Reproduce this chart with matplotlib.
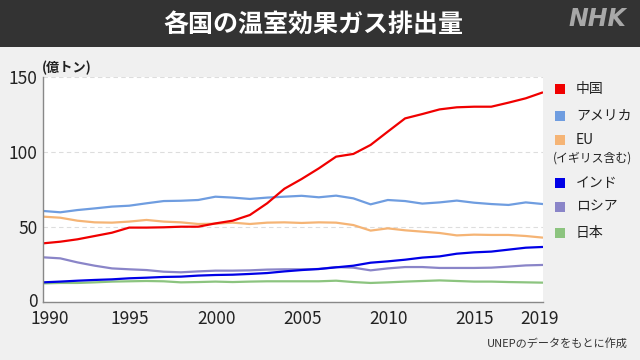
import matplotlib
matplotlib.use('Agg')
import matplotlib.pyplot as plt
from matplotlib.patches import Rectangle
from matplotlib.transforms import ScaledTranslation

plt.rcParams['font.family'] = ['Noto Sans CJK JP', 'DejaVu Sans']

years = list(range(1990, 2020))

china = [39.1, 40.2, 41.8, 44.0, 46.2, 49.6, 49.6, 49.8, 50.2, 50.2,
         52.4, 54.2, 58.0, 65.8, 75.5, 82.0, 89.1, 96.9, 98.7, 104.7,
         113.6, 122.4, 125.3, 128.4, 129.8, 130.2, 130.2, 132.9, 135.8, 139.8]
usa = [60.7, 59.8, 61.3, 62.4, 63.6, 64.2, 65.8, 67.3, 67.5, 68.0,
       70.2, 69.6, 68.7, 69.6, 70.2, 70.8, 69.8, 70.9, 69.1, 65.1,
       68.0, 67.3, 65.6, 66.4, 67.6, 66.2, 65.3, 64.7, 66.4, 65.3]
eu = [56.9, 56.2, 54.2, 53.1, 52.9, 53.6, 54.7, 53.6, 53.1, 52.0,
      52.2, 52.9, 52.0, 52.9, 53.1, 52.7, 53.1, 52.9, 51.3, 47.6,
      49.1, 47.8, 46.9, 46.0, 44.4, 44.9, 44.7, 44.7, 44.0, 42.9]
india = [13.1, 13.6, 14.2, 14.7, 15.1, 15.8, 16.2, 16.7, 16.9, 17.6,
         18.0, 18.2, 18.7, 19.3, 20.4, 21.3, 22.0, 23.1, 24.2, 26.2,
         27.1, 28.2, 29.6, 30.4, 32.2, 33.1, 33.6, 34.9, 36.2, 36.7]
russia = [29.8, 29.1, 26.4, 24.2, 22.4, 21.8, 21.3, 20.2, 19.8, 20.4,
          20.9, 20.9, 21.1, 21.6, 21.8, 21.8, 22.0, 23.3, 22.9, 21.1,
          22.4, 23.3, 23.3, 22.7, 22.7, 22.7, 22.9, 23.6, 24.4, 24.7]
japan = [12.4, 12.7, 12.7, 13.1, 13.6, 13.8, 14.0, 13.8, 13.1, 13.3,
         13.6, 13.3, 13.6, 13.8, 13.8, 13.8, 13.8, 14.2, 13.3, 12.7,
         13.1, 13.6, 14.0, 14.4, 14.0, 13.6, 13.6, 13.3, 13.1, 12.9]

names = ['中国', 'アメリカ', 'EU', 'インド', 'ロシア', '日本']
colors = ['#f00000', '#6f9de0', '#f5b475', '#0000e6', '#8a85c8', '#8cc47f']
series = [china, usa, eu, india, russia, japan]
xticks = [1990, 1995, 2000, 2005, 2010, 2015, 2019]
yticks = [0, 50, 100, 150]

fig = plt.figure(figsize=(6.4, 3.6), dpi=100, facecolor='#f0f0f0')

# header bar
fig.add_artist(Rectangle((0, 1 - 47 / 360), 1, 47 / 360, transform=fig.transFigure,
                         facecolor='#333333', edgecolor='none'))
fig.text(313 / 640, 1 - 25 / 360, '各国の温室効果ガス排出量', color='white', fontsize=18,
         fontweight='bold', ha='center', va='center')
fig.text(597 / 640, 1 - 19 / 360, 'NHK', color='#a8a8a8', fontsize=17,
         fontweight='bold', fontstyle='italic', family='DejaVu Sans',
         ha='center', va='center')

ax = fig.add_axes([43 / 640, 1 - 302 / 360, 500 / 640, 225 / 360])
ax.set_facecolor('white')

# draw back to front so China is on top
for vals, c in list(zip(series, colors))[::-1]:
    ax.plot(years, vals, color=c, linewidth=1.6, solid_capstyle='butt')

ax.set_xlim(1990, 2019)
ax.set_ylim(0, 150)
ax.set_xticks(xticks)
ax.set_yticks(yticks)
ax.tick_params(length=0, labelsize=12.5, colors='#222222')
ax.tick_params(axis='x', pad=6)
ax.tick_params(axis='y', pad=4)
for s in ['top', 'right']:
    ax.spines[s].set_visible(False)
for s in ['left', 'bottom']:
    ax.spines[s].set_color('#888888')
    ax.spines[s].set_linewidth(1)
ax.grid(axis='y', linestyle=(0, (4, 3)), color='#dddddd', linewidth=0.8)
ax.set_axisbelow(True)

# nudge x labels like the original (first one pushed inside)
shifts = [7, 1, 1, 1, 1, 1, -3]
for lab, dx in zip(ax.get_xticklabels(), shifts):
    lab.set_transform(lab.get_transform() + ScaledTranslation(dx / 100, 0, fig.dpi_scale_trans))
# lift the "0" a little so it clears 1990
ylab0 = ax.get_yticklabels()[0]
ylab0.set_transform(ylab0.get_transform() + ScaledTranslation(0, 2 / 100, fig.dpi_scale_trans))

fig.text(42 / 640, 1 - 68 / 360, '(億トン)', fontsize=9.5, fontweight='bold',
         color='#222222', ha='left', va='center')

# legend
leg_y = [89, 116, 140, 183, 207, 233]
for name, c, yy in zip(names, colors, leg_y):
    fig.add_artist(Rectangle((555 / 640, 1 - (yy + 5) / 360), 10 / 640, 10 / 360,
                             transform=fig.transFigure, facecolor=c, edgecolor='none'))
    fig.text(576 / 640, 1 - yy / 360, name, fontsize=10, color='#222222',
             ha='left', va='center')
fig.text(553 / 640, 1 - 158 / 360, '(イギリス含む)', fontsize=8.6, color='#222222',
         ha='left', va='center')

fig.text(628 / 640, 1 - 343 / 360, 'UNEPのデータをもとに作成', fontsize=8,
         color='#333333', ha='right', va='center')

fig.savefig('out.png', dpi=100, facecolor=fig.get_facecolor())
